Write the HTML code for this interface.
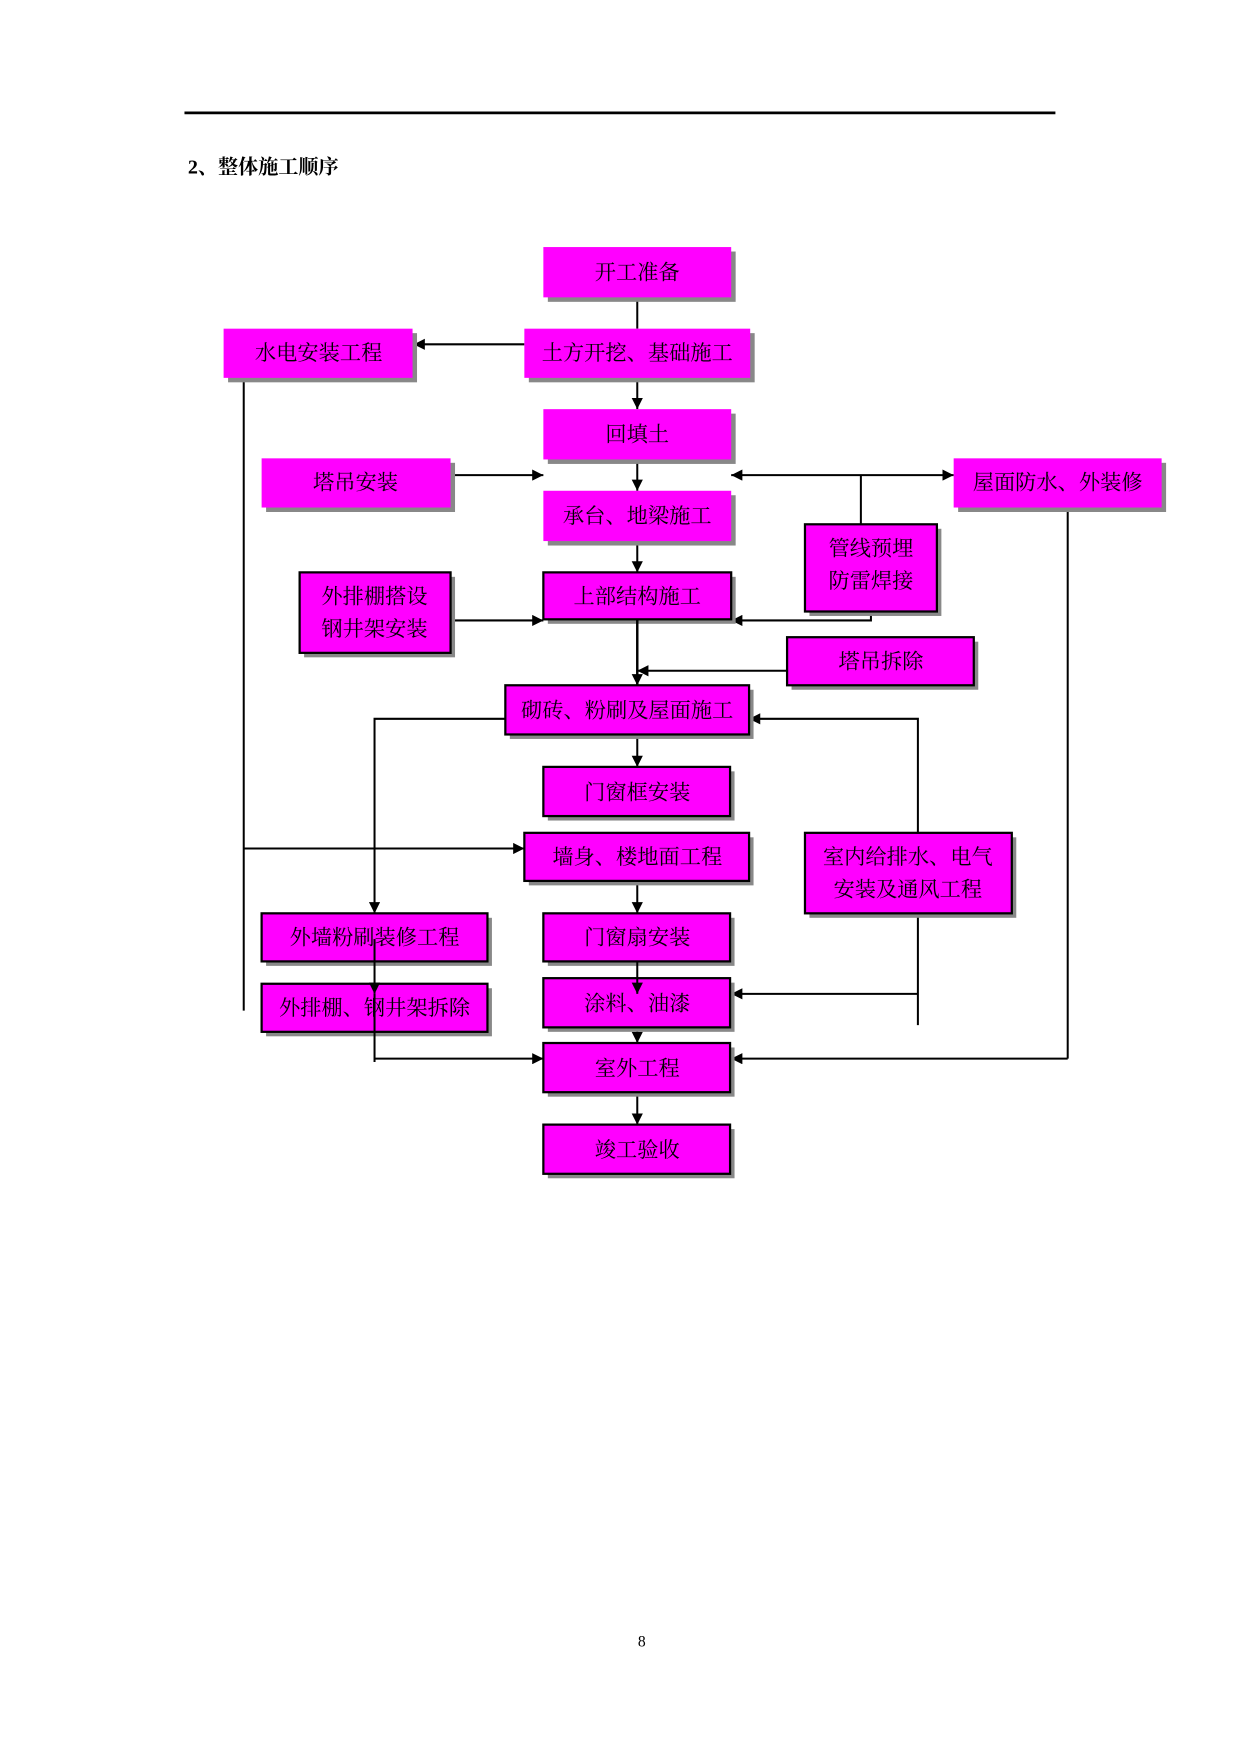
<!DOCTYPE html>
<html><head><meta charset="utf-8"><style>
html,body{margin:0;padding:0;background:#fff;}
svg{display:block;}
text{font-family:"Liberation Serif","Noto Serif CJK SC",serif;}
</style></head><body>
<svg width="1241" height="1754" viewBox="0 0 1110 1569" preserveAspectRatio="none" xmlns="http://www.w3.org/2000/svg">
<defs>
<marker id="a" viewBox="0 0 10 10" refX="10" refY="5" markerWidth="11" markerHeight="10" orient="auto-start-reverse" markerUnits="userSpaceOnUse"><path d="M0,0L10,5L0,10z" fill="#000"/></marker>
</defs>
<line x1="165" y1="101" x2="944" y2="101" stroke="#000" stroke-width="2.5"/>
<text x="168" y="155" font-family="Liberation Sans,Noto Sans CJK SC,sans-serif" font-weight="bold" font-size="18">2、整体施工顺序</text>
<text x="574" y="1473" font-size="14" text-anchor="middle">8</text>

<g stroke="#000" stroke-width="1.8" fill="none">
<line x1="570" y1="266" x2="570" y2="294"/>
<line x1="469" y1="308" x2="370" y2="308" marker-end="url(#a)"/>
<line x1="570" y1="338" x2="570" y2="366" marker-end="url(#a)"/>
<line x1="570" y1="411" x2="570" y2="439" marker-end="url(#a)"/>
<line x1="403" y1="425" x2="486" y2="425" marker-end="url(#a)"/>
<line x1="654" y1="425" x2="853" y2="425" marker-start="url(#a)" marker-end="url(#a)"/>
<line x1="770" y1="425" x2="770" y2="469"/>
<line x1="570" y1="484" x2="570" y2="512" marker-end="url(#a)"/>
<line x1="403" y1="555" x2="486" y2="555" marker-end="url(#a)"/>
<polyline points="779,547 779,555 654,555" marker-end="url(#a)"/>
<line x1="704" y1="600" x2="570" y2="600" marker-end="url(#a)"/>
<polyline points="452,643 335,643 335,817" marker-end="url(#a)"/>
<line x1="570" y1="657" x2="570" y2="686" marker-end="url(#a)"/>
<polyline points="821,745 821,643 670,643" marker-end="url(#a)"/>
<line x1="218" y1="338" x2="218" y2="904"/>
<line x1="218" y1="759" x2="469" y2="759" marker-end="url(#a)"/>
<line x1="570" y1="788" x2="570" y2="817" marker-end="url(#a)"/>
<line x1="955" y1="454" x2="955" y2="947"/>
<line x1="955" y1="947" x2="654" y2="947" marker-end="url(#a)"/>
<line x1="821" y1="817" x2="821" y2="917"/>
<line x1="821" y1="889" x2="654" y2="889" marker-end="url(#a)"/>
<line x1="335" y1="947" x2="486" y2="947" marker-end="url(#a)"/>
<line x1="570" y1="919" x2="570" y2="933" marker-end="url(#a)"/>
<line x1="570" y1="977" x2="570" y2="1006" marker-end="url(#a)"/>
</g>

<g font-size="19" text-anchor="middle" fill="#000">
<rect x="490" y="225" width="168" height="45" fill="#888"/><rect x="486" y="221" width="168" height="45" fill="#f0f"/><text x="570" y="250">开工准备</text>
<rect x="473" y="298" width="202" height="44" fill="#888"/><rect x="469" y="294" width="202" height="44" fill="#f0f"/><text x="570" y="322">土方开挖、基础施工</text>
<rect x="204" y="298" width="169" height="44" fill="#888"/><rect x="200" y="294" width="169" height="44" fill="#f0f"/><text x="285" y="322">水电安装工程</text>
<rect x="490" y="370" width="168" height="45" fill="#888"/><rect x="486" y="366" width="168" height="45" fill="#f0f"/><text x="570" y="395">回填土</text>
<rect x="238" y="414" width="169" height="44" fill="#888"/><rect x="234" y="410" width="169" height="44" fill="#f0f"/><text x="318" y="438">塔吊安装</text>
<rect x="490" y="443" width="168" height="45" fill="#888"/><rect x="486" y="439" width="168" height="45" fill="#f0f"/><text x="570" y="468">承台、地梁施工</text>
<rect x="857" y="414" width="186" height="44" fill="#888"/><rect x="853" y="410" width="186" height="44" fill="#f0f"/><text x="946" y="438">屋面防水、外装修</text>
</g>
<g font-size="19" text-anchor="middle" fill="#000" stroke-width="2">
<rect x="724" y="473" width="118" height="78" fill="#888"/><rect x="720" y="469" width="118" height="78" fill="#f0f" stroke="#000"/><text x="779" y="497">管线预埋</text><text x="779" y="526">防雷焊接</text>
<rect x="272" y="516" width="135" height="72" fill="#888"/><rect x="268" y="512" width="135" height="72" fill="#f0f" stroke="#000"/><text x="335" y="540">外排棚搭设</text><text x="335" y="569">钢井架安装</text>
<rect x="490" y="516" width="168" height="42" fill="#888"/><rect x="486" y="512" width="168" height="42" fill="#f0f" stroke="#000"/><text x="570" y="540">上部结构施工</text>
<rect x="708" y="574" width="167" height="43" fill="#888"/><rect x="704" y="570" width="167" height="43" fill="#f0f" stroke="#000"/><text x="788" y="598">塔吊拆除</text>
<rect x="456" y="617" width="218" height="44" fill="#888"/><rect x="452" y="613" width="218" height="44" fill="#f0f" stroke="#000"/><text x="561" y="642">砌砖、粉刷及屋面施工</text>
<rect x="490" y="690" width="167" height="44" fill="#888"/><rect x="486" y="686" width="167" height="44" fill="#f0f" stroke="#000"/><text x="570" y="715">门窗框安装</text>
<rect x="473" y="749" width="201" height="43" fill="#888"/><rect x="469" y="745" width="201" height="43" fill="#f0f" stroke="#000"/><text x="570" y="773">墙身、楼地面工程</text>
<rect x="724" y="749" width="185" height="72" fill="#888"/><rect x="720" y="745" width="185" height="72" fill="#f0f" stroke="#000"/><text x="812" y="773">室内给排水、电气</text><text x="812" y="802">安装及通风工程</text>
<rect x="238" y="821" width="202" height="43" fill="#888"/><rect x="234" y="817" width="202" height="43" fill="#f0f" stroke="#000"/><text x="335" y="845">外墙粉刷装修工程</text>
<rect x="490" y="821" width="167" height="43" fill="#888"/><rect x="486" y="817" width="167" height="43" fill="#f0f" stroke="#000"/><text x="570" y="845">门窗扇安装</text>
<rect x="238" y="884" width="202" height="43" fill="#888"/><rect x="234" y="880" width="202" height="43" fill="#f0f" stroke="#000"/><text x="335" y="908">外排棚、钢井架拆除</text>
<rect x="490" y="879" width="167" height="44" fill="#888"/><rect x="486" y="875" width="167" height="44" fill="#f0f" stroke="#000"/><text x="570" y="904">涂料、油漆</text>
<rect x="490" y="937" width="167" height="44" fill="#888"/><rect x="486" y="933" width="167" height="44" fill="#f0f" stroke="#000"/><text x="570" y="962">室外工程</text>
<rect x="490" y="1010" width="167" height="44" fill="#888"/><rect x="486" y="1006" width="167" height="44" fill="#f0f" stroke="#000"/><text x="570" y="1035">竣工验收</text>
</g>
<g stroke="#000" stroke-width="1.8" fill="none">
<line x1="335" y1="840" x2="335" y2="889" marker-end="url(#a)"/>
<line x1="335" y1="889" x2="335" y2="950"/>
<line x1="570" y1="860" x2="570" y2="889" marker-end="url(#a)"/>
<line x1="570" y1="554" x2="570" y2="613" marker-end="url(#a)" stroke-width="2.2"/>
</g>
</svg>
</body></html>
